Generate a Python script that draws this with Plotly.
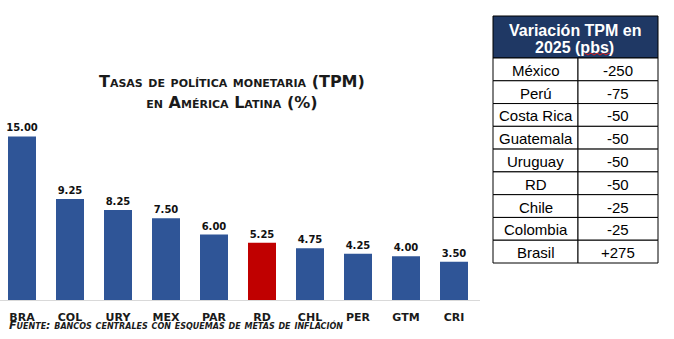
import plotly.graph_objects as go

# Chart data
countries = ["BRA", "COL", "URY", "MEX", "PAR", "RD", "CHL", "PER", "GTM", "CRI"]
rates = [15.00, 9.25, 8.25, 7.50, 6.00, 5.25, 4.75, 4.25, 4.00, 3.50]
highlight = "RD"

# Table data
table_header = ["Variación TPM en", "2025 (pbs)"]
table_countries = ["México", "Perú", "Costa Rica", "Guatemala", "Uruguay", "RD", "Chile", "Colombia", "Brasil"]
table_changes = ["-250", "-75", "-50", "-50", "-50", "-50", "-25", "-25", "+275"]

W, H = 674, 339
blue = "#2F5597"
red = "#C00000"
colors = [red if c == highlight else blue for c in countries]

fig = go.Figure()
fig.add_trace(go.Bar(
    x=countries, y=rates,
    marker=dict(color=colors, line=dict(width=0)),
    text=[f"{v:.2f}" for v in rates],
    textposition="outside",
    constraintext="none",
    textfont=dict(family="DejaVu Sans", size=10, color="#111111", weight="bold"),
    cliponaxis=False,
    hoverinfo="skip",
))


def px(x):
    return x / W


def py(y):
    return 1 - y / H


shapes = []
annotations = []

# Table geometry (pixels)
tx0, tmid, tx1 = 493, 578, 658
hy0, hy1 = 16, 58
row_h = (263 - 58) / len(table_countries)

shapes.append(dict(type="rect", xref="paper", yref="paper",
                   x0=px(tx0), x1=px(tx1), y0=py(hy1), y1=py(hy0),
                   fillcolor="#1F3864", line=dict(color="black", width=1)))
for i, line in enumerate(table_header):
    annotations.append(dict(
        text=f"<b>{line}</b>", x=px((tx0 + tx1) / 2 - 1), y=py(30 + 17 * i),
        xref="paper", yref="paper", xanchor="center", yanchor="middle", showarrow=False,
        font=dict(family="Liberation Sans", size=16, color="white")))

# spell-check squiggle under "pbs" seen in the source screenshot
sq_x0, sq_x1, sq_y = 585, 612, 54
pts = []
n = 9
for k in range(n + 1):
    xx = sq_x0 + (sq_x1 - sq_x0) * k / n
    yy = sq_y + (1 if k % 2 else -1)
    pts.append(f"{px(xx)},{py(yy)}")
shapes.append(dict(type="path", xref="paper", yref="paper",
                   path="M " + " L ".join(pts), line=dict(color="#E02020", width=1)))

for i, (c, v) in enumerate(zip(table_countries, table_changes)):
    ya = hy1 + i * row_h
    yb = ya + row_h
    shapes.append(dict(type="rect", xref="paper", yref="paper",
                       x0=px(tx0), x1=px(tmid), y0=py(yb), y1=py(ya),
                       fillcolor="white", line=dict(color="black", width=1)))
    shapes.append(dict(type="rect", xref="paper", yref="paper",
                       x0=px(tmid), x1=px(tx1), y0=py(yb), y1=py(ya),
                       fillcolor="white", line=dict(color="black", width=1)))
    annotations.append(dict(
        text=c, x=px((tx0 + tmid) / 2), y=py((ya + yb) / 2 + 1),
        xref="paper", yref="paper", xanchor="center", yanchor="middle", showarrow=False,
        font=dict(family="Liberation Sans", size=15, color="black")))
    annotations.append(dict(
        text=v, x=px((tmid + tx1) / 2), y=py((ya + yb) / 2 + 1),
        xref="paper", yref="paper", xanchor="center", yanchor="middle", showarrow=False,
        font=dict(family="Liberation Sans", size=15, color="black")))

annotations.append(dict(
    text="Tasas de política monetaria (TPM)<br>en América Latina (%)",
    x=px(232), y=py(92), xref="paper", yref="paper",
    xanchor="center", yanchor="middle", showarrow=False,
    font=dict(family="DejaVu Sans", size=16, color="#1a1a1a", weight="bold", variant="small-caps"),
))
annotations.append(dict(
    text="<i>Fuente: bancos centrales con esquemas de metas de inflación</i>",
    x=px(7), y=py(325), xref="paper", yref="paper",
    xanchor="left", yanchor="middle", showarrow=False,
    font=dict(family="DejaVu Sans", size=11, color="#1a1a1a", weight="bold", variant="small-caps"),
))

fig.update_layout(
    width=W, height=H,
    margin=dict(l=0, r=0, t=0, b=0),
    paper_bgcolor="white", plot_bgcolor="white",
    showlegend=False,
    bargap=20 / 48,
    xaxis=dict(
        domain=[0, 480 / W],
        range=[-0.5 + 2 / 48, 9.5 + 2 / 48],
        showline=True, linecolor="#D9D9D9", linewidth=1,
        showgrid=False, ticks="", automargin=False,
        tickfont=dict(family="DejaVu Sans", size=11, color="#1a1a1a", weight="bold"),
        ticklabelstandoff=7,
    ),
    yaxis=dict(
        domain=[(H - 300) / H, 1],
        range=[0, 299 / 10.87],
        visible=False, showgrid=False, zeroline=False,
    ),
    shapes=shapes,
    annotations=annotations,
)

fig.write_html("out.html")
